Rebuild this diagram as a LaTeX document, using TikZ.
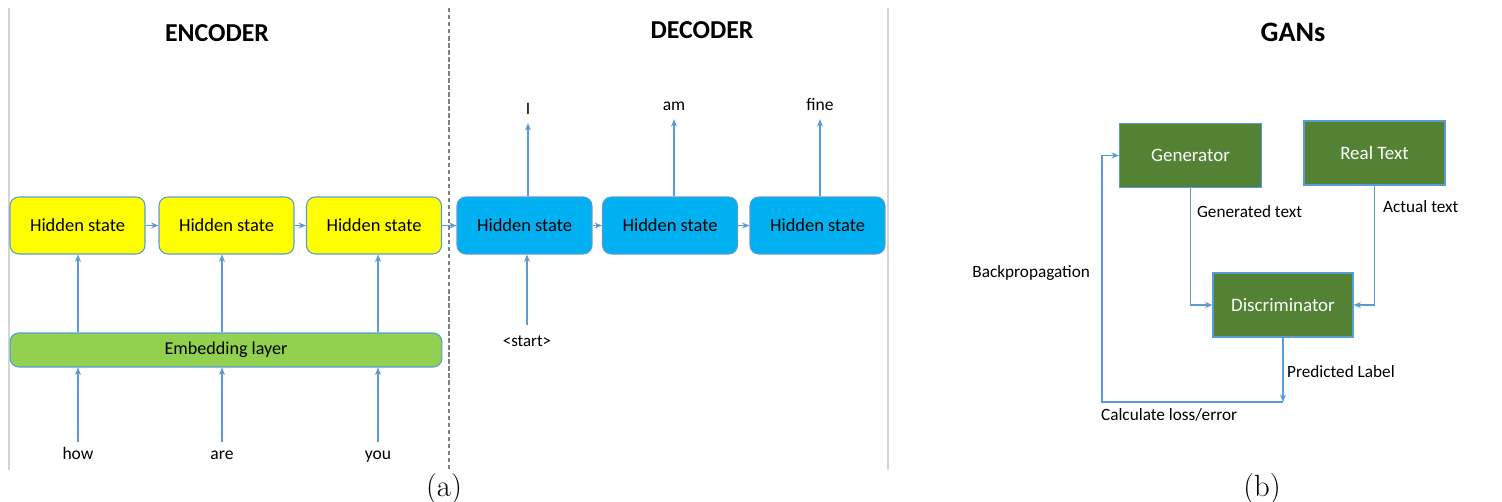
\documentclass[tikz,border=0pt]{standalone}
\usepackage{fontspec}
\setsansfont{Carlito}
\usetikzlibrary{arrows.meta, positioning, calc}
\definecolor{hsyellow}{HTML}{FFFF00}
\definecolor{hsblue}{HTML}{00B0F0}
\definecolor{embgreen}{HTML}{92D050}
\definecolor{gangreen}{HTML}{548235}
\definecolor{edgeblue}{HTML}{5B9BD5}
\definecolor{rulegray}{HTML}{D4D4D4}

\begin{document}
\begin{tikzpicture}[x=0.02cm, y=-0.02cm,
  >={Stealth[length=1.5mm, width=1.2mm]},
  hstate/.style={draw=edgeblue, line width=0.6pt, fill=#1, rounded corners=5pt,
    minimum width=2.7cm, minimum height=1.14cm, inner sep=0pt,
    font=\sffamily\fontsize{10.5}{12}\selectfont},
  ganbox/.style={draw=edgeblue, line width=0.6pt, fill=gangreen, text=white,
    minimum width=2.84cm, minimum height=1.29cm, inner sep=0pt,
    font=\sffamily\fontsize{10.8}{13}\selectfont},
  word/.style={font=\sffamily\fontsize{10}{12}\selectfont, inner sep=3pt,
    text height=1.6ex, text depth=0.4ex},
  lbl/.style={font=\sffamily\fontsize{9.8}{12}\selectfont, inner sep=1pt},
  head/.style={font=\sffamily\bfseries\fontsize{14.7}{18}\selectfont},
  arr/.style={->, edgeblue, line width=0.6pt},
]
\useasboundingbox (0,0) rectangle (1502,501);

% Frame lines
\draw[rulegray, line width=1.1pt] (9,8) -- (9,470);
\draw[rulegray, line width=1.1pt] (888,8) -- (888,470);
\draw[gray, line width=0.6pt, dashed, dash pattern=on 2.5pt off 1.5pt] (449,8) -- (449,470);

% Titles
\node[head] (enctitle) at (217,33) {ENCODER};
\node[head] (dectitle) at (702,30) {DECODER};
\node[head, font=\sffamily\bfseries\fontsize{16}{19}\selectfont] (gantitle) at (1293,32) {GANs};

% === Encoder ===
\node[hstate=hsyellow] (enc1) at (77.5,225.5) {Hidden state};
\node[hstate=hsyellow] (enc2) at (226.5,225.5) {Hidden state};
\node[hstate=hsyellow] (enc3) at (374,225.5) {Hidden state};

\node[draw=edgeblue, line width=0.6pt, fill=embgreen, rounded corners=5pt,
  minimum width=8.64cm, minimum height=0.68cm, inner sep=0pt,
  font=\sffamily\fontsize{10.3}{12}\selectfont] (emb) at (226,350) {Embedding layer};

\node[word] (how) at (78,455) {how};
\node[word] (are) at (222,455) {are};
\node[word] (you) at (378,455) {you};

\draw[arr] (how.north) -- (emb.south -| how);
\draw[arr] (are.north) -- (emb.south -| are);
\draw[arr] (you.north) -- (emb.south -| you);
\draw[arr] (emb.north -| how) -- (enc1.south -| how);
\draw[arr] (emb.north -| are) -- (enc2.south -| are);
\draw[arr] (emb.north -| you) -- (enc3.south -| you);

% === Decoder ===
\node[hstate=hsblue] (dec1) at (524.5,225.5) {Hidden state};
\node[hstate=hsblue] (dec2) at (670,225.5) {Hidden state};
\node[hstate=hsblue] (dec3) at (817.5,225.5) {Hidden state};

\draw[arr] (enc1) -- (enc2);
\draw[arr] (enc2) -- (enc3);
\draw[arr] (enc3) -- (dec1);
\draw[arr] (dec1) -- (dec2);
\draw[arr] (dec2) -- (dec3);

\node[word] (out1) at (528,110) {I};
\node[word] (out2) at (674,106) {am};
\node[word] (out3) at (820,106) {fine};
\draw[arr] (dec1.north -| out1) -- (out1.south);
\draw[arr] (dec2.north -| out2) -- (out2.south);
\draw[arr] (dec3.north -| out3) -- (out3.south);

\node[word, inner sep=5pt, font=\sffamily\fontsize{9.6}{12}\selectfont] (start) at (527,342) {<start>};
\draw[arr] (start.north) -- (dec1.south -| start);

% === GAN ===
\node[ganbox] (gen) at (1190.5,155.5) {Generator};
\node[ganbox, minimum width=2.82cm, minimum height=1.28cm] (real) at (1374.5,153) {Real Text};
\node[ganbox, minimum width=2.8cm, minimum height=1.28cm] (disc) at (1283,305) {Discriminator};

\coordinate (loss) at (1283,402);
\coordinate (back) at (1102,402);

\draw[arr] (gen.south) |- (disc.west);
\draw[arr] (real.south) |- (disc.east);
\draw[arr] (disc.south) -- (loss);
\draw[arr] (loss) -- (back) |- (gen.west);

\node[lbl, anchor=west] (gentext) at (1195,212) {Generated text};
\node[lbl, anchor=west] (acttext) at (1381,207) {Actual text};
\node[lbl, anchor=west] (predlbl) at (1285,372) {Predicted Label};
\node[lbl, anchor=east] (backprop) at (1092,273) {Backpropagation};
\node[lbl, anchor=west] (calcloss) at (1099,415) {Calculate loss/error};

% Captions
\node[font=\rmfamily\fontsize{17.5}{20}\selectfont] (capa) at (444,489) {(a)};
\node[font=\rmfamily\fontsize{17.5}{20}\selectfont] (capb) at (1262,489) {(b)};

\end{tikzpicture}
\end{document}
